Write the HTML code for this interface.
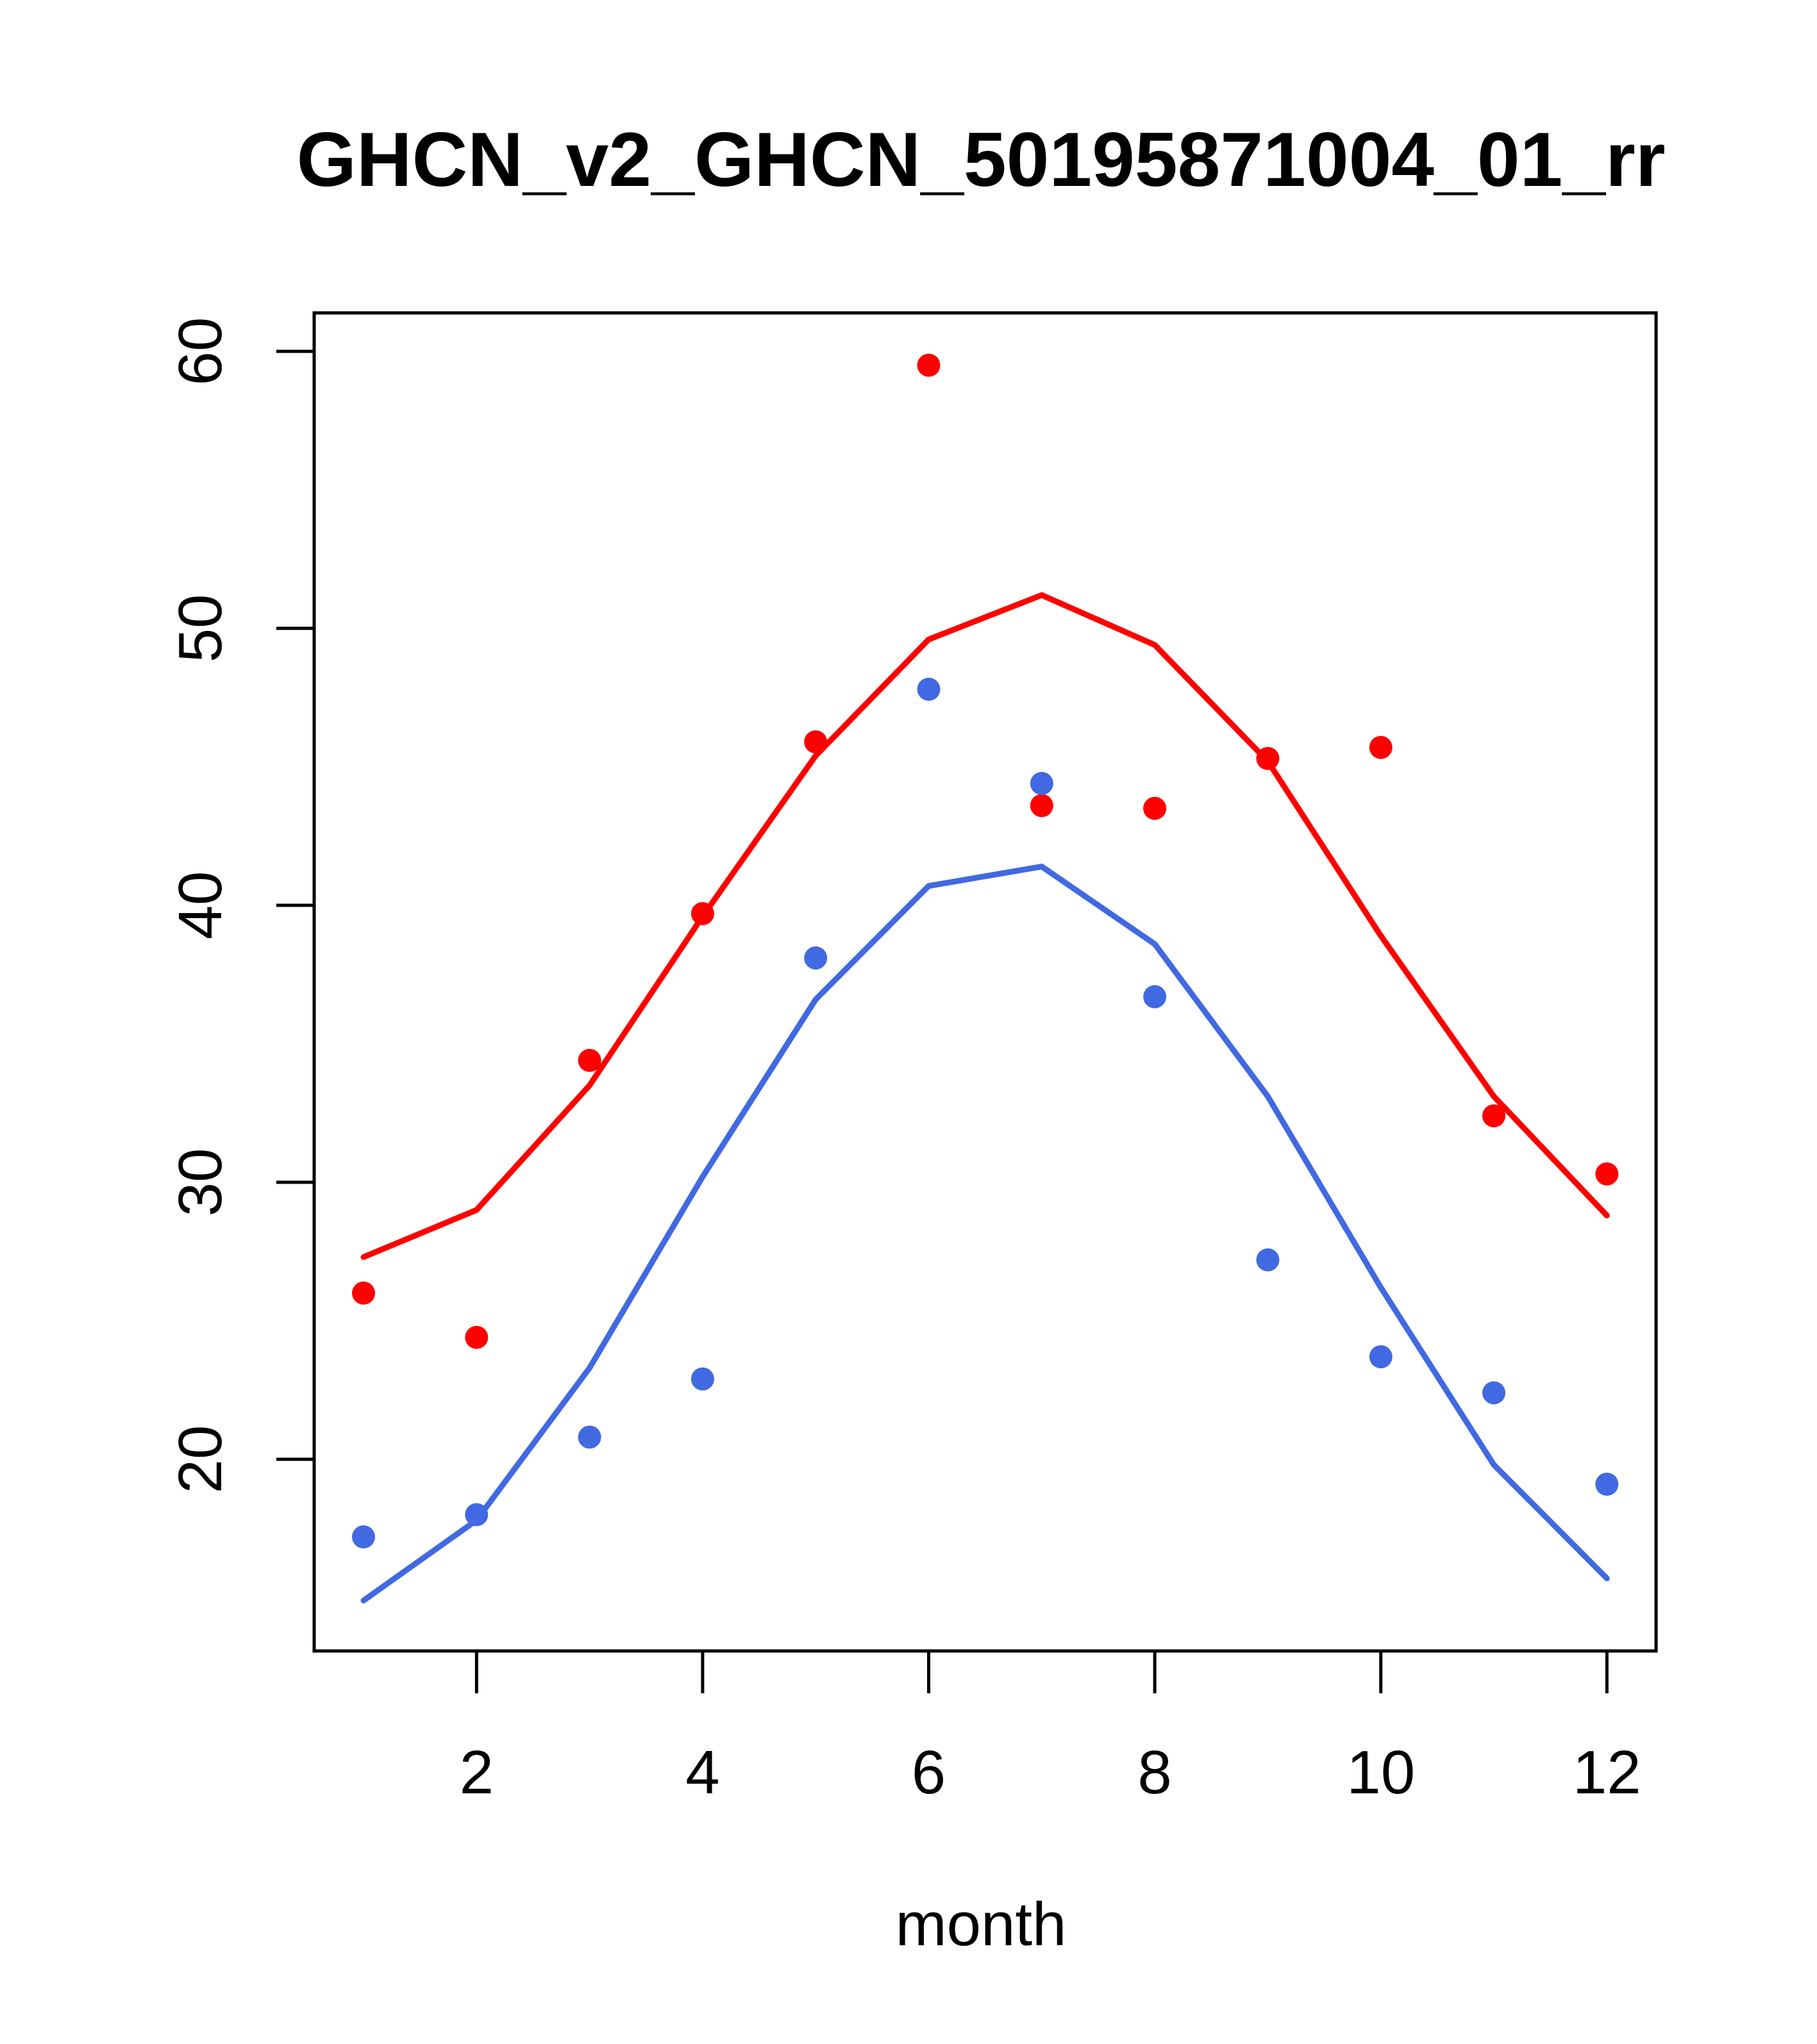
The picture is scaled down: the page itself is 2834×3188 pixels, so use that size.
<!DOCTYPE html>
<html><head><meta charset="utf-8"><style>body{margin:0;background:#fff}svg{display:block}text{font-family:"Liberation Sans",sans-serif}</style></head>
<body>
<svg id="chart" width="2834" height="3188" viewBox="0 0 2834 3188" xmlns="http://www.w3.org/2000/svg">
<rect width="2834" height="3188" fill="#fff"/>
<text x="1530" y="290" font-size="120" font-weight="bold" text-anchor="middle">GHCN_v2_GHCN_50195871004_01_rr</text>
<rect x="490" y="488" width="2093" height="2087" fill="none" stroke="#000" stroke-width="5"/>
<g id="axes"></g>
<g id="marks"></g>
<text x="1530" y="3034" font-size="96" text-anchor="middle">month</text>
</svg>
<script>
const months=[1,2,3,4,5,6,7,8,9,10,11,12];
const redPoints=[26.0,24.4,34.4,39.7,45.9,59.5,43.6,43.5,45.3,45.7,32.4,30.3];
const redLine=[27.3,29.0,33.5,39.6,45.4,49.6,51.2,49.4,45.2,38.9,33.1,28.8];
const bluePoints=[17.2,18.0,20.8,22.9,38.1,47.8,44.4,36.7,27.2,23.7,22.4,19.1];
const blueLine=[14.9,17.8,23.3,30.2,36.6,40.7,41.4,38.6,33.1,26.2,19.8,15.7];
const xTicks=[2,4,6,8,10,12];
const yTicks=[20,30,40,50,60];
const NS='http://www.w3.org/2000/svg';
function X(m){return 567+(m-1)*176.3;}
function Y(v){return 548+(60-v)*43.2;}
function mk(t,a,p){const e=document.createElementNS(NS,t);for(const k in a)e.setAttribute(k,a[k]);p.appendChild(e);return e;}
const axes=document.getElementById('axes'),marks=document.getElementById('marks');
xTicks.forEach(t=>{
 const l=mk('line',{x1:X(t),x2:X(t),y1:2575,y2:2641,stroke:'#000','stroke-width':5},axes);
 
 
 const tx=mk('text',{x:X(t),y:2797,'font-size':96,'text-anchor':'middle'},axes);tx.textContent=t;
 
 
});
yTicks.forEach(t=>{
 const l=mk('line',{x1:431,x2:490,y1:Y(t),y2:Y(t),stroke:'#000','stroke-width':5},axes);
 
 
 const tx=mk('text',{x:0,y:0,'font-size':96,'text-anchor':'middle',transform:`translate(345,${Y(t)}) rotate(-90)`},axes);tx.textContent=t;
 
 
});
function line(vals,col,name){
 const p=mk('polyline',{points:months.map((m,i)=>X(m)+','+Y(vals[i])).join(' '),fill:'none',stroke:col,'stroke-width':9,'stroke-linejoin':'round','stroke-linecap':'round'},marks);
 
 
}
function pts(vals,col,name){
 months.forEach((m,i)=>{const c=mk('circle',{cx:X(m),cy:Y(vals[i]),r:18,fill:col},marks);
 
 });
}
line(redLine,'#ff0000','red-line');
line(blueLine,'#4169e1','blue-line');
pts(redPoints,'#ff0000','red-point');
pts(bluePoints,'#4169e1','blue-point');
</script>
</body></html>
